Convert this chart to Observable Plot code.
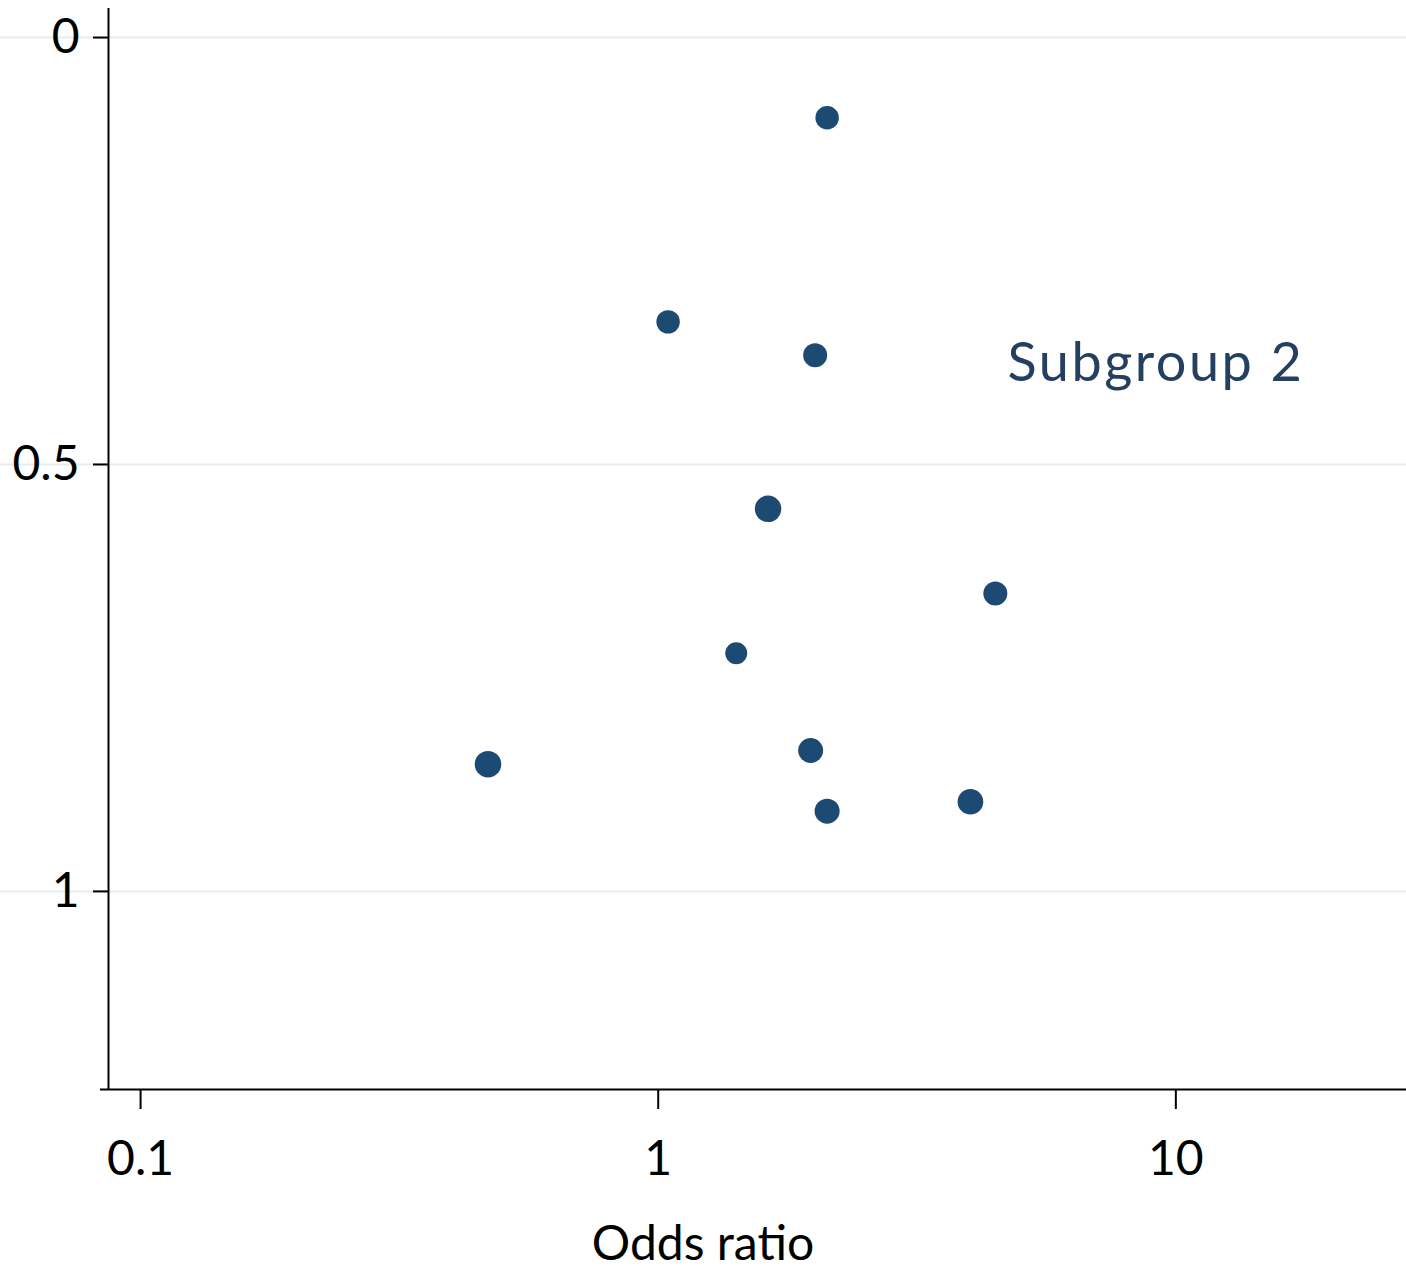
<!DOCTYPE html>
<html>
<head>
<meta charset="utf-8">
<script src="https://cdn.jsdelivr.net/npm/d3@7"></script>
<script src="https://cdn.jsdelivr.net/npm/@observablehq/plot@0.6"></script>
<style>
  html, body { margin: 0; padding: 0; background: #fff; }
  #chart { width: 1406px; }
  #xlabel {
    width: 1406px;
    text-align: center;
    font-family: Lato, "Open Sans", sans-serif;
    font-size: 48px;
    line-height: 58px;
    color: #000;
    margin-top: 13px;
  }
  .subgroup-note text { letter-spacing: 2.5px; }
</style>
</head>
<body>
<div id="chart"></div>
<div id="xlabel">Odds ratio</div>
<script>
// Study estimates: odds ratio (log x) against standard error (y, 0 at top)
const oddsRatio = [2.12, 1.045, 2.01, 1.63, 4.48, 1.415, 1.97, 0.469, 4.01, 2.12];
const stdError  = [0.094, 0.333, 0.372, 0.552, 0.651, 0.721, 0.835, 0.851, 0.895, 0.906];
const weight    = [2.75, 2.75, 2.87, 3.5, 2.87, 2.41, 3.11, 3.5, 3.3, 3.11];

// Axis ticks
const xTicks = [0.1, 1, 10];
const yTicks = [0, 0.5, 1];

// Annotation
const noteText = ["Subgroup 2"];
const noteX = [4.73];
const noteY = [0.382];

const studies = oddsRatio.map((or, i) => ({or, se: stdError[i], w: weight[i]}));
const notes = noteText.map((t, i) => ({t, x: noteX[i], y: noteY[i]}));

const xDomain = [0.0867, 27.9];
const yDomain = [-0.034, 1.232];

const chart = Plot.plot({
  width: 1406,
  height: 1200,
  marginTop: 8,
  marginBottom: 111,
  marginLeft: 108,
  marginRight: 0,
  style: {fontFamily: "Lato, 'Open Sans', sans-serif", fontSize: "48px", color: "#000", background: "#fff"},
  x: {type: "log", domain: xDomain},
  y: {domain: yDomain, reverse: true},
  r: {type: "sqrt", domain: [0, 3.5], range: [0, 13.25]},
  marks: [
    // light horizontal gridlines running across the full width
    Plot.ruleY(yTicks, {stroke: "#e6eef0", strokeWidth: 2, insetLeft: -108}),
    // axis lines
    Plot.ruleX([xDomain[0]], {stroke: "#000", strokeWidth: 2}),
    Plot.ruleY([yDomain[1]], {stroke: "#000", strokeWidth: 2, insetLeft: -8}),
    Plot.axisX({ticks: xTicks, tickFormat: d => String(d), tickSize: 20, tickPadding: 31, label: null, strokeWidth: 2, fontSize: 48}),
    Plot.axisY({ticks: yTicks, tickFormat: d => String(d), tickSize: 15, tickPadding: 14, label: null, strokeWidth: 2, fontSize: 48}),
    Plot.dot(studies, {x: "or", y: "se", r: "w", fill: "#1c4a73", stroke: "none"}),
    Plot.text(notes, {x: "x", y: "y", text: "t", textAnchor: "start", fill: "#243f60", fontSize: 54, className: "subgroup-note"})
  ]
});
document.getElementById("chart").appendChild(chart);
</script>
</body>
</html>
